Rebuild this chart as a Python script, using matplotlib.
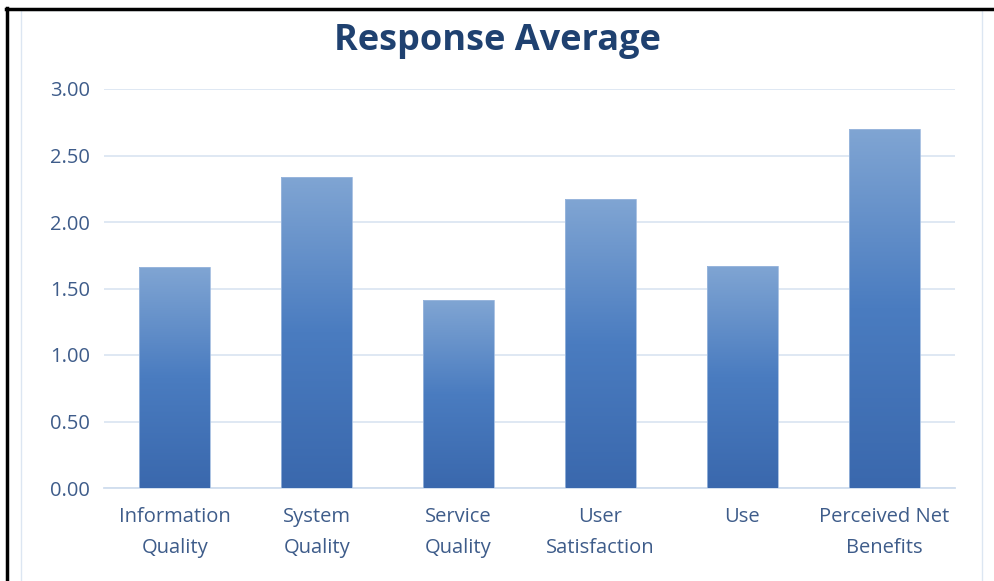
import numpy as np
import matplotlib.pyplot as plt
from matplotlib.patches import Rectangle
from matplotlib.lines import Line2D
from matplotlib.colors import LinearSegmentedColormap

kategorien = ['Information\nQuality', 'System\nQuality', 'Service\nQuality',
              'User\nSatisfaction', 'Use', 'Perceived Net\nBenefits']
werte = [1.66, 2.34, 1.41, 2.17, 1.67, 2.70]
yticks = [0.0, 0.5, 1.0, 1.5, 2.0, 2.5, 3.0]

W, H = 995, 581
fig = plt.figure(figsize=(W / 100, H / 100), dpi=100)
plt.rcParams['font.family'] = ['Open Sans', 'DejaVu Sans']

# Rahmen: schwarz links/oben, hellblau innen
fig.add_artist(Rectangle((21 / W, -0.05), (982 - 21) / W, 1 - 10 / H + 0.05,
                         transform=fig.transFigure, fill=False,
                         edgecolor='#DCE6F2', lw=1))
fig.add_artist(Line2D([7.5 / W, 7.5 / W], [0, 1 - 8 / H], transform=fig.transFigure,
                      color='black', lw=2.5))
fig.add_artist(Line2D([6.5 / W, 1], [1 - 9 / H, 1 - 9 / H], transform=fig.transFigure,
                      color='black', lw=2.5))

ax = fig.add_axes([104 / W, 1 - 488 / H, (955 - 104) / W, (488 - 89) / H])
x = np.arange(len(werte))
bars = ax.bar(x, werte, width=0.5, color='none', edgecolor='none', zorder=3)

# Farbverlauf pro Balken
grad = np.linspace(0, 1, 256).reshape(-1, 1)
cmap = LinearSegmentedColormap.from_list('blau', ['#3A68AD', '#4A7CC0', '#80A5D3'])
for b in bars:
    x0, w, h = b.get_x(), b.get_width(), b.get_height()
    im = ax.imshow(grad, extent=[x0, x0 + w, 0, h], origin='lower', cmap=cmap,
                   aspect='auto', zorder=3)
    im.set_clip_path(b)
    ax.add_patch(Rectangle((x0, 0), w, h, fill=False, edgecolor='#9DB9DE',
                           lw=0.6, zorder=4))

ax.set_xlim(-0.5, len(werte) - 0.5)
ax.set_ylim(0, 3)
ax.set_yticks(yticks)
ax.set_yticklabels([f'{v:.2f}' for v in yticks])
ax.set_xticks(x)
ax.set_xticklabels(kategorien, linespacing=1.7)
ax.grid(axis='y', color='#DCE6F2', lw=1.3, zorder=0)
ax.set_axisbelow(True)
for s in ['top', 'right', 'left']:
    ax.spines[s].set_visible(False)
ax.spines['bottom'].set_color('#D0DDEE')
ax.spines['bottom'].set_linewidth(1.3)
ax.tick_params(axis='both', length=0, labelsize=14.5, colors='#3E5C8A')
ax.tick_params(axis='y', pad=10)
ax.tick_params(axis='x', pad=14)

fig.text(497 / W, 1 - 41 / H, 'Response Average', ha='center', va='center',
         fontsize=26, fontweight='bold', color='#1F4170')

fig.savefig('out.png', dpi=100)
